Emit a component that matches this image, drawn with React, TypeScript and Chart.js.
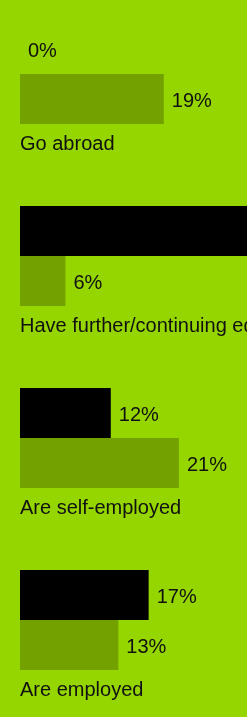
import React, { useEffect, useRef } from "react";
import { Chart, registerables } from "chart.js";

Chart.register(...registerables);

const categories = [
  "Go abroad",
  "Have further/continuing education",
  "Are self-employed",
  "Are employed",
];
const seriesA = [0, 40, 12, 17];
const seriesB = [19, 6, 21, 13];

const BG = "#95d600";
const DARK_GREEN = "#72a100";
const FONT = "20px 'Liberation Sans', Arial, sans-serif";

const labelPlugin = {
  id: "customLabels",
  afterDatasetsDraw(chart: any) {
    const ctx = chart.ctx;
    ctx.save();
    ctx.font = FONT;
    ctx.fillStyle = "#111";
    ctx.textBaseline = "middle";
    ctx.textAlign = "left";
    chart.data.datasets.forEach((ds: any, di: number) => {
      const meta = chart.getDatasetMeta(di);
      meta.data.forEach((bar: any, i: number) => {
        const v = ds.data[i];
        ctx.fillText(v + "%", bar.x + 8, bar.y + 2.5);
      });
    });
    const yScale = chart.scales.y;
    const left = chart.chartArea.left;
    categories.forEach((c, i) => {
      const y = yScale.getPixelForValue(i);
      ctx.fillText(c, left, y + 70);
    });
    ctx.restore();
  },
};

export default function App() {
  const ref = useRef<HTMLCanvasElement | null>(null);
  useEffect(() => {
    if (!ref.current) return;
    const chart = new Chart(ref.current, {
      type: "bar",
      data: {
        labels: categories,
        datasets: [
          {
            data: seriesA,
            backgroundColor: "#000000",
            borderWidth: 0,
            inflateAmount: 0,
            barThickness: 50,
          },
          {
            data: seriesB,
            backgroundColor: DARK_GREEN,
            borderWidth: 0,
            inflateAmount: 0,
            barThickness: 50,
          },
        ],
      },
      options: {
        indexAxis: "y",
        responsive: false,
        animation: false,
        layout: { padding: { left: 20, right: 0, top: 0, bottom: 0 } },
        plugins: {
          legend: { display: false },
          tooltip: { enabled: false },
        },
        scales: {
          x: { display: false, min: 0, max: 30 },
          y: { display: false, offset: true },
        },
      },
      plugins: [labelPlugin],
    });
    return () => chart.destroy();
  }, []);
  return (
    <div
      style={{
        position: "fixed",
        left: 0,
        top: 0,
        width: 247,
        height: 717,
        overflow: "hidden",
        background: BG,
      }}
    >
      <canvas
        ref={ref}
        width={247}
        height={728}
        style={{ position: "absolute", left: 0, top: -17, width: 247, height: 728 }}
      />
    </div>
  );
}
